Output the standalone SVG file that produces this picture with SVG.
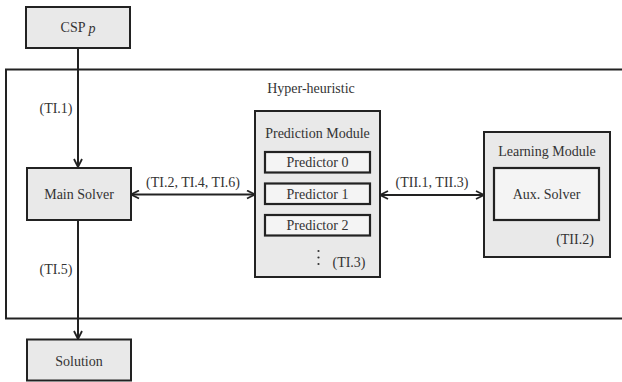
<svg xmlns="http://www.w3.org/2000/svg" width="622" height="382" viewBox="0 0 622 382">
<style>
text{font-family:"Liberation Serif","DejaVu Serif",serif;font-size:14px;fill:#333;text-anchor:middle;dominant-baseline:central}
.box{fill:#e9e9e9;stroke:#222;stroke-width:2}
.inner{fill:#f4f4f4;stroke:#222;stroke-width:2.2}
.line{fill:none;stroke:#222;stroke-width:2}
</style>
<defs>
<marker id="ah" viewBox="0 0 10 10" refX="9" refY="5" markerWidth="10" markerHeight="10" markerUnits="userSpaceOnUse" orient="auto-start-reverse">
<path d="M1,1 L9,5 L1,9" fill="none" stroke="#222" stroke-width="1.8"/>
</marker>
</defs>
<g id="hyper">
<rect x="6" y="69.5" width="630" height="249" fill="none" stroke="#222" stroke-width="2"/>
<text x="311" y="88">Hyper-heuristic</text>
</g>
<g id="connectors">
<line class="line" x1="78" y1="48" x2="78" y2="167" marker-end="url(#ah)"/>
<line class="line" x1="78" y1="220" x2="78" y2="339" marker-end="url(#ah)"/>
<line class="line" x1="131" y1="194.5" x2="255" y2="194.5" marker-start="url(#ah)" marker-end="url(#ah)"/>
<line class="line" x1="380" y1="195" x2="484" y2="195" marker-start="url(#ah)" marker-end="url(#ah)"/>
<text x="56" y="108">(TI.1)</text>
<text x="56" y="269">(TI.5)</text>
<text x="193" y="182">(TI.2, TI.4, TI.6)</text>
<text x="432" y="182">(TII.1, TII.3)</text>
</g>
<g id="csp">
<rect class="box" x="26" y="7" width="104" height="41"/>
<text x="78" y="27.5">CSP <tspan font-style="italic">p</tspan></text>
</g>
<g id="main-solver">
<rect class="box" x="27" y="168" width="104" height="52"/>
<text x="79" y="194">Main Solver</text>
</g>
<g id="solution">
<rect class="box" x="27" y="339.5" width="104" height="41"/>
<text x="79" y="361">Solution</text>
</g>
<g id="prediction-module">
<rect class="box" x="255" y="111" width="125" height="166"/>
<text x="317.5" y="133">Prediction Module</text>
<rect class="inner" x="265" y="152" width="105" height="20.5"/>
<text x="317.5" y="162.5">Predictor 0</text>
<rect class="inner" x="265" y="183.5" width="105" height="20.5"/>
<text x="317.5" y="194">Predictor 1</text>
<rect class="inner" x="265" y="215" width="105" height="20.5"/>
<text x="317.5" y="225.5">Predictor 2</text>
<circle cx="318.5" cy="251" r="1.1" fill="#333"/>
<circle cx="318.5" cy="257.5" r="1.1" fill="#333"/>
<circle cx="318.5" cy="264" r="1.1" fill="#333"/>
<text x="349" y="262">(TI.3)</text>
</g>
<g id="learning-module">
<rect class="box" x="484" y="132" width="126" height="125"/>
<text x="547" y="151.5">Learning Module</text>
<rect class="inner" x="494" y="168" width="105" height="52"/>
<text x="546.5" y="194">Aux. Solver</text>
<text x="575" y="239.5">(TII.2)</text>
</g>
</svg>
